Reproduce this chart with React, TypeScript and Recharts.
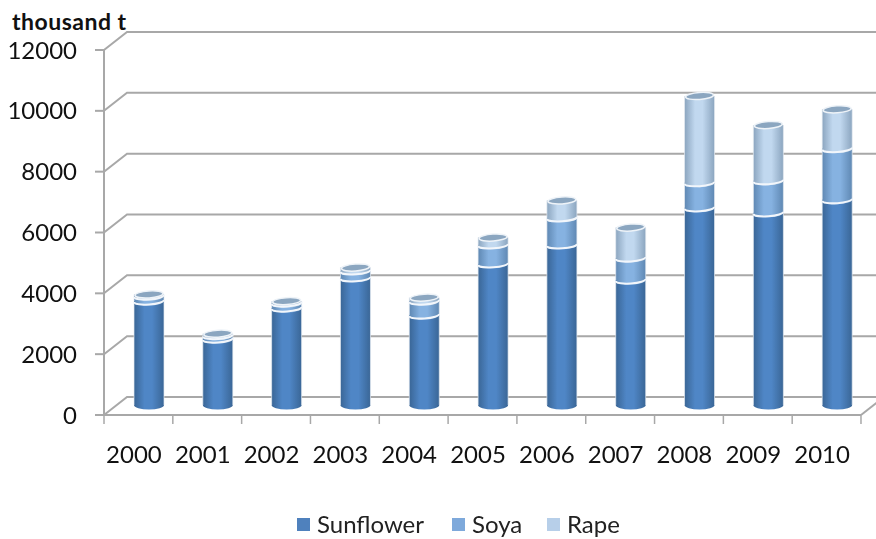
import { BarChart, Bar, XAxis, YAxis, CartesianGrid, Legend } from 'recharts';

const years = ['2000', '2001', '2002', '2003', '2004', '2005', '2006', '2007', '2008', '2009', '2010'];
const sunflower = [3420, 2170, 3190, 4180, 2960, 4640, 5265, 4110, 6485, 6320, 6750];
const soya = [165, 115, 165, 230, 460, 625, 890, 725, 825, 1055, 1680];
const rape = [50, 60, 60, 110, 110, 240, 570, 1000, 2850, 1830, 1290];
const yTicks = [0, 2000, 4000, 6000, 8000, 10000, 12000];
const seriesNames = ['Sunflower', 'Soya', 'Rape'];

const data = years.map((year, i) => ({
  year,
  Sunflower: sunflower[i],
  Soya: soya[i],
  Rape: rape[i],
}));

const FONT = 'Lato, sans-serif';
const AXIS = '#a8a8a8';
const DEPTH_X = 23;
const DEPTH_Y = 18;
const BAR_DX = 11;
const BAR_DY = -10;
const STEP = 68.8;
const RY = 3.5;

const colors: Record<string, string> = { Sunflower: '#4f81bd', Soya: '#7ea9db', Rape: '#b7cfe9' };

function Gradient({ id, edge, mid }: { id: string; edge: string; mid: string }) {
  return (
    <linearGradient id={id} x1="0" y1="0" x2="1" y2="0">
      <stop offset="0%" stopColor={edge} />
      <stop offset="35%" stopColor={mid} />
      <stop offset="60%" stopColor={mid} />
      <stop offset="100%" stopColor={edge} />
    </linearGradient>
  );
}

function cylinder(series: string, isTop: boolean, isBottom: boolean) {
  return (props: any) => {
    const { x, y, width, height } = props;
    const rx = width / 2;
    const left = x + BAR_DX;
    const right = left + width;
    const top = y + BAR_DY;
    const bottom = top + height;
    const body = `M${left},${top} L${left},${bottom} A${rx},${RY + 1} 0 0 0 ${right},${bottom} L${right},${top} Z`;
    const cap = `rotate(-4 ${left + rx} ${top})`;
    return (
      <g>
        <path d={body} fill={`url(#grad-${series})`} />
        <path d={`M${left},${top} L${left},${bottom} M${right},${bottom} L${right},${top}`} stroke="#e4ebf2" strokeWidth={1} fill="none" opacity={0.7} />
        {!isBottom && (
          <path
            d={`M${left},${bottom} A${rx},${RY} 0 0 0 ${right},${bottom}`}
            transform={`rotate(-4 ${left + rx} ${bottom})`}
            fill="none"
            stroke="#f2f6fb"
            strokeWidth={2}
          />
        )}
        {isTop && (
          <ellipse cx={left + rx} cy={top} rx={rx - 1} ry={RY} fill="#8ba6c0" stroke="#eef3f8" strokeWidth={1.5} transform={cap} />
        )}
      </g>
    );
  };
}

function WallLine(props: any) {
  const { x1, x2, y1 } = props;
  const isFloor = y1 > 410;
  return (
    <g fill="none" stroke={AXIS} strokeWidth={2}>
      <path d={`M${x1},${y1} L${x1 + DEPTH_X},${y1 - DEPTH_Y} L876,${y1 - DEPTH_Y}`} />
      {isFloor && <path d={`M${x2},${y1} L${x2 + DEPTH_X},${y1 - DEPTH_Y}`} />}
    </g>
  );
}

function YearTick(props: any) {
  const { x, y, payload, index } = props;
  return (
    <g>
      <line x1={x - STEP / 2} x2={x - STEP / 2} y1={y - 8} y2={y + 1} stroke={AXIS} strokeWidth={1.5} />
      {index === years.length - 1 && (
        <line x1={x + STEP / 2} x2={x + STEP / 2} y1={y - 8} y2={y + 1} stroke={AXIS} strokeWidth={1.5} />
      )}
      <text x={x - 4.5} y={y + 40} textAnchor="middle" fontFamily={FONT} fontSize={24} fill="#111">
        {payload.value}
      </text>
    </g>
  );
}

function LegendRow() {
  const widths = [108, 48, 53];
  return (
    <div style={{ display: 'flex', alignItems: 'center', fontFamily: FONT, fontSize: 24, color: '#222', lineHeight: '24px', whiteSpace: 'nowrap' }}>
      {seriesNames.map((name, i) => (
        <div key={name} style={{ display: 'flex', alignItems: 'center', marginRight: 27 }}>
          <span style={{ width: 13, height: 13, background: colors[name], marginRight: 7, display: 'inline-block' }} />
          <span style={{ width: widths[i] }}>{name}</span>
        </div>
      ))}
    </div>
  );
}

export default function App() {
  return (
    <div style={{ position: 'absolute', left: 0, top: 0, width: 876, height: 539, overflow: 'hidden', background: '#fff' }}>
      <div style={{ position: 'absolute', left: 12, top: 7, fontFamily: FONT, fontWeight: 700, fontSize: 23, letterSpacing: 0.5, color: '#111', zIndex: 2 }}>
        thousand t
      </div>
      <BarChart
        width={876}
        height={539}
        data={data}
        barSize={30}
        margin={{ top: 50, right: 15, bottom: 0, left: 0 }}
        style={{ filter: 'blur(0.4px)' }}
      >
        <defs>
          <Gradient id="grad-Sunflower" edge="#3a6696" mid="#4f86c6" />
          <Gradient id="grad-Soya" edge="#5f88b3" mid="#86b2e1" />
          <Gradient id="grad-Rape" edge="#8ba5bf" mid="#c1d8ef" />
        </defs>
        <CartesianGrid vertical={false} horizontal={(p: any) => <WallLine key={p.key} {...p} />} />
        <XAxis
          dataKey="year"
          height={124}
          stroke={AXIS}
          strokeWidth={2}
          tickLine={false}
          tick={<YearTick />}
          interval={0}
        />
        <YAxis
          width={104}
          domain={[0, 12000]}
          ticks={yTicks}
          stroke={AXIS}
          strokeWidth={2}
          tickSize={9}
          tickMargin={18}
          tick={{ fontFamily: FONT, fontSize: 24, fill: '#111' }}
        />
        <Bar dataKey="Sunflower" stackId="a" fill={colors.Sunflower} shape={cylinder('Sunflower', false, true)} isAnimationActive={false} />
        <Bar dataKey="Soya" stackId="a" fill={colors.Soya} shape={cylinder('Soya', false, false)} isAnimationActive={false} />
        <Bar dataKey="Rape" stackId="a" fill={colors.Rape} shape={cylinder('Rape', true, false)} isAnimationActive={false} />
        <Legend
          verticalAlign="middle"
          layout="horizontal"
          content={<LegendRow />}
          wrapperStyle={{ left: 297, top: 512, width: 400 }}
        />
      </BarChart>
    </div>
  );
}
